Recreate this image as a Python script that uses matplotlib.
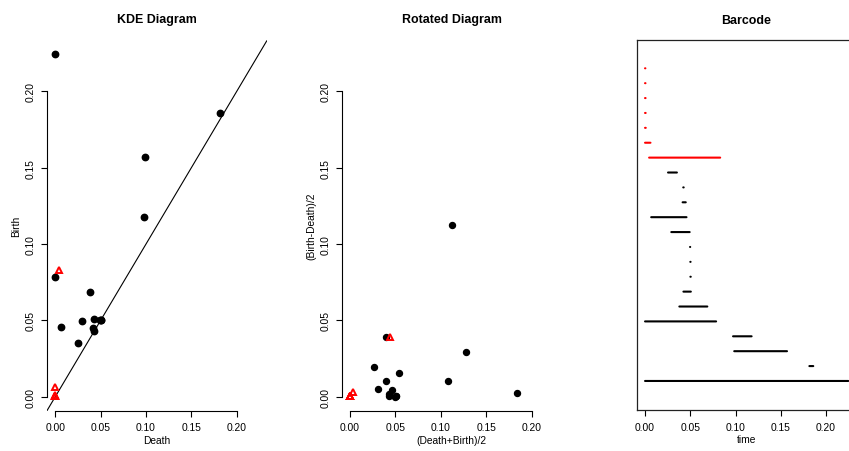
import matplotlib
matplotlib.use('Agg')
import matplotlib.pyplot as plt

plt.rcParams['font.family'] = ['Liberation Sans', 'DejaVu Sans']
# sinon les barres très courtes disparaissent
plt.rcParams['path.simplify'] = False

# Diagramme de persistance (KDE) : dimension 0 en noir, dimension 1 en rouge
h0_death = [0.0254, 0.0422, 0.0415, 0.0068, 0.0290, 0.0497, 0.0500, 0.0501,
            0.0424, 0.0379, 0.0000, 0.0972, 0.0985, 0.1815, 0.0000]
h0_birth = [0.0352, 0.0427, 0.0450, 0.0458, 0.0493, 0.0499, 0.0503, 0.0505,
            0.0506, 0.0688, 0.0785, 0.1177, 0.1568, 0.1858, 0.2245]
h1_death = [0.0000, 0.0000, 0.0000, 0.0000, 0.0000, 0.0000, 0.0045]
h1_birth = [0.0004, 0.0005, 0.0006, 0.0007, 0.0008, 0.0060, 0.0830]

ticks = [0.0, 0.05, 0.10, 0.15, 0.20]
tick_labels = ['0.00', '0.05', '0.10', '0.15', '0.20']

FS = 7.4
W, H = 849, 452


def axes_px(left, top, right, bottom):
    return [left / W, (H - bottom) / H, (right - left) / W, (bottom - top) / H]


def r_style(ax):
    # axes façon R : trait seulement entre la première et la dernière graduation
    ax.spines['top'].set_visible(False)
    ax.spines['right'].set_visible(False)
    ax.spines['bottom'].set_bounds(0, 0.2)
    ax.spines['left'].set_bounds(0, 0.2)
    for s in ax.spines.values():
        s.set_linewidth(0.8)
    ax.set_xticks(ticks)
    ax.set_xticklabels(tick_labels)
    ax.set_yticks(ticks)
    ax.set_yticklabels(tick_labels, rotation=90, va='center')
    ax.tick_params(length=4.3, width=0.8, labelsize=FS, pad=4)


fig = plt.figure(figsize=(W / 100, H / 100), dpi=100)

# --- KDE Diagram ---
ax1 = fig.add_axes(axes_px(46.7, 40.7, 266.7, 411.7))
ax1.plot(h0_death, h0_birth, 'o', color='black', ms=4.6, zorder=3)
ax1.plot(h1_death, h1_birth, '^', color='red', mfc='none', ms=5, mew=1.4, zorder=4)
ax1.axline((0, 0), slope=1, color='black', lw=0.8)
ax1.set_xlim(-0.0095, 0.233)
ax1.set_ylim(-0.0092, 0.2338)
r_style(ax1)
ax1.set_xlabel('Death', fontsize=FS, labelpad=2)
ax1.set_ylabel('Birth', fontsize=FS, labelpad=3)
ax1.set_title('KDE Diagram', fontsize=8.9, fontweight='bold', pad=12.6)

# --- Rotated Diagram ---
rot0_x = [(d + b) / 2 for d, b in zip(h0_death, h0_birth)]
rot0_y = [(b - d) / 2 for d, b in zip(h0_death, h0_birth)]
rot1_x = [(d + b) / 2 for d, b in zip(h1_death, h1_birth)]
rot1_y = [(b - d) / 2 for d, b in zip(h1_death, h1_birth)]

ax2 = fig.add_axes(axes_px(341.7, 40.7, 562, 411.7))
ax2.plot(rot0_x, rot0_y, 'o', color='black', ms=4.3, zorder=3)
ax2.plot(rot1_x, rot1_y, '^', color='red', mfc='none', ms=5, mew=1.4, zorder=4)
ax2.set_xlim(-0.0091, 0.233)
ax2.set_ylim(-0.0092, 0.2338)
r_style(ax2)
ax2.set_xlabel('(Death+Birth)/2', fontsize=FS, labelpad=2)
ax2.set_ylabel('(Birth-Death)/2', fontsize=FS, labelpad=3)
ax2.set_title('Rotated Diagram', fontsize=8.9, fontweight='bold', pad=12.6)

# --- Barcode ---
ax3 = fig.add_axes(axes_px(636.7, 41, 856, 411))
bars = [(d, b, 'red') for d, b in zip(h1_death, h1_birth)] + \
       [(d, b, 'black') for d, b in zip(h0_death, h0_birth)]
n = len(bars)
for i, (d, b, c) in enumerate(bars):
    y = n - i
    ax3.plot([d, b], [y, y], color=c, lw=1.5, solid_capstyle='round', snap=False)
ax3.set_xlim(-0.0092, 0.233)
ax3.set_ylim(-0.95, n + 1.9)
ax3.set_xticks(ticks)
ax3.set_xticklabels(tick_labels)
ax3.set_yticks([])
for s in ax3.spines.values():
    s.set_linewidth(0.9)
    s.set_color('#222222')
ax3.tick_params(axis='x', length=4.3, width=0.8, labelsize=FS, pad=4)
ax3.set_xlabel('time', fontsize=FS, labelpad=2)
ax3.set_title('Barcode', fontsize=8.9, fontweight='bold', pad=12.6)

plt.savefig('out.png', dpi=100)
plt.close()
